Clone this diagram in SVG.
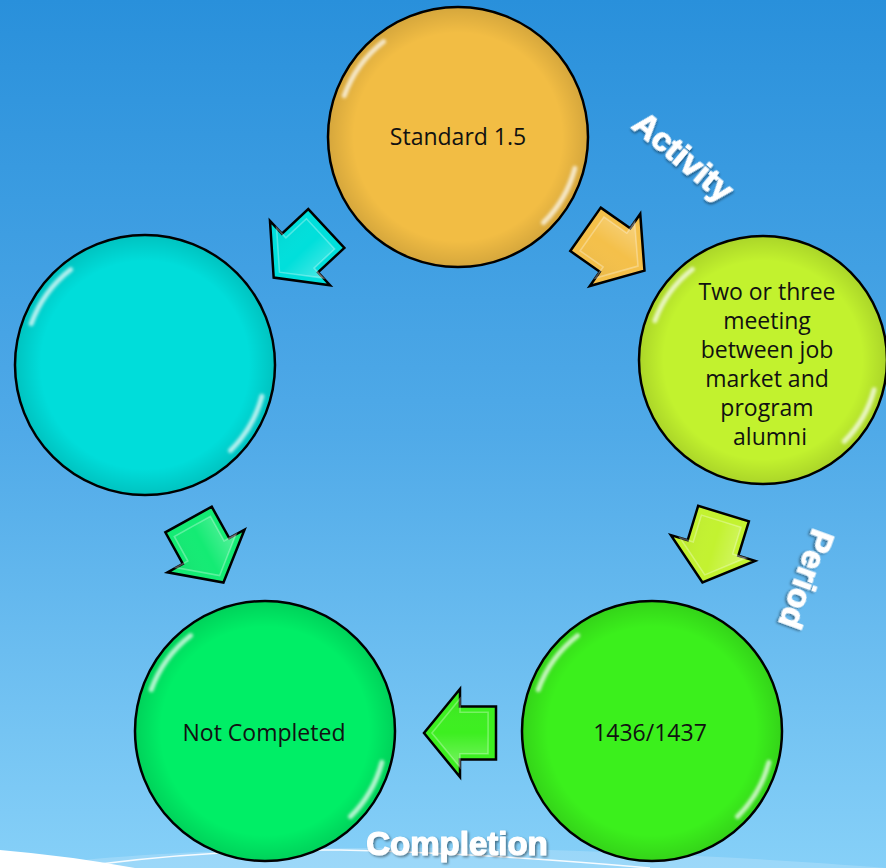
<svg xmlns="http://www.w3.org/2000/svg" width="886" height="868" viewBox="0 0 886 868">
  <defs>
    <linearGradient id="bg" x1="0" y1="0" x2="0" y2="1">
      <stop offset="0" stop-color="#2990DB"/>
      <stop offset="0.5" stop-color="#50AAE8"/>
      <stop offset="1" stop-color="#86D0F8"/>
    </linearGradient>
    <radialGradient id="shade" cx="0.5" cy="0.5" r="0.5">
      <stop offset="0.8" stop-color="#000" stop-opacity="0"/>
      <stop offset="1" stop-color="#000" stop-opacity="0.12"/>
    </radialGradient>
    <linearGradient id="abev" x1="0" y1="0" x2="0" y2="1">
      <stop offset="0" stop-color="#fff" stop-opacity="0.3"/>
      <stop offset="0.5" stop-color="#fff" stop-opacity="0"/>
      <stop offset="1" stop-color="#000" stop-opacity="0.05"/>
    </linearGradient>
    <filter id="blur" x="-10%" y="-10%" width="120%" height="120%">
      <feGaussianBlur stdDeviation="1.4"/>
    </filter>
    <filter id="shadow" x="-20%" y="-20%" width="140%" height="140%">
      <feDropShadow dx="1.5" dy="1.5" stdDeviation="1.2" flood-color="#000" flood-opacity="0.45"/>
    </filter>
    <path id="arrow" d="M-36,-26.5 L0,-26.5 L0,-44 L36,0 L0,44 L0,26.5 L-36,26.5 Z"/>
  </defs>
  <style>
    .circ { stroke: #000; stroke-width: 2.5; }
    .gloss { fill: none; stroke: #fff; stroke-width: 5; stroke-opacity: 0.7; stroke-linecap: round; stroke-dasharray: 30 155 32 143; stroke-dashoffset: -15; filter: url(#blur); }
    .lbl { font-family: "Open Sans", "Liberation Sans", sans-serif; font-size: 23px; fill: #111; text-anchor: middle; }
    .big { font-family: "Liberation Sans", "Open Sans", sans-serif; font-weight: bold; font-size: 33px; fill: #fff; stroke: #fff; stroke-width: 1.2; stroke-linejoin: round; text-anchor: middle; filter: url(#shadow); }
    .arr { stroke: #000; stroke-width: 2.5; stroke-linejoin: miter; }
    .arrhl { fill: url(#abev); stroke: #fff; stroke-opacity: 0.3; stroke-width: 2; }
  </style>

  <rect x="0" y="0" width="886" height="868" fill="url(#bg)"/>
  <g id="swoosh">
    <path d="M20,868 C120,852 300,846 450,848 C600,850 760,858 886,868 Z" fill="#fff" fill-opacity="0.18"/>
    <path d="M100,864 Q220,849 340,850 Q480,853 650,868" fill="none" stroke="#fff" stroke-width="1.5" stroke-opacity="0.9"/>
    <path d="M0,850 Q70,856 135,868 L0,868 Z" fill="#fff"/>
  </g>

  <g id="connectors">
    <g transform="translate(615,250) rotate(35)">
      <use href="#arrow" class="arr" fill="#F4C04A"/>
      <use href="#arrow" class="arrhl" transform="scale(0.78)"/>
    </g>
    <g transform="translate(713,548) rotate(107)">
      <use href="#arrow" class="arr" fill="#C3F230"/>
      <use href="#arrow" class="arrhl" transform="scale(0.78)"/>
    </g>
    <g transform="translate(460,733) rotate(180)">
      <use href="#arrow" class="arr" fill="#3DEF20"/>
      <use href="#arrow" class="arrhl" transform="scale(0.78)"/>
    </g>
    <g transform="translate(206,551) rotate(61)">
      <use href="#arrow" class="arr" fill="#14EB74"/>
      <use href="#arrow" class="arrhl" transform="scale(0.78)"/>
    </g>
    <g transform="translate(300,253) rotate(137)">
      <use href="#arrow" class="arr" fill="#00DFDB"/>
      <use href="#arrow" class="arrhl" transform="scale(0.78)"/>
    </g>
  </g>

  <g id="node-standard">
    <circle class="circ" cx="458" cy="137" r="130" fill="#F2BD44"/>
    <circle cx="458" cy="137" r="130" fill="url(#shade)"/>
    <circle class="gloss" cx="458" cy="137" r="121" pathLength="360"/>
    <text class="lbl" x="458" y="145">Standard 1.5</text>
  </g>

  <g id="node-meeting">
    <circle class="circ" cx="763" cy="360" r="124" fill="#C2F22E"/>
    <circle cx="763" cy="360" r="124" fill="url(#shade)"/>
    <circle class="gloss" cx="763" cy="360" r="115" pathLength="360"/>
    <text class="lbl">
      <tspan x="770" y="300">Two or three</tspan>
      <tspan x="770" y="329">meeting</tspan>
      <tspan x="770" y="358">between job</tspan>
      <tspan x="770" y="387">market and</tspan>
      <tspan x="770" y="416">program</tspan>
      <tspan x="770" y="445">alumni</tspan>
    </text>
  </g>

  <g id="node-period">
    <circle class="circ" cx="652" cy="731" r="130" fill="#3BF01C"/>
    <circle cx="652" cy="731" r="130" fill="url(#shade)"/>
    <circle class="gloss" cx="652" cy="731" r="121" pathLength="360"/>
    <text class="lbl" x="650" y="741">1436/1437</text>
  </g>

  <g id="node-completion">
    <circle class="circ" cx="265" cy="731" r="130" fill="#00EE66"/>
    <circle cx="265" cy="731" r="130" fill="url(#shade)"/>
    <circle class="gloss" cx="265" cy="731" r="121" pathLength="360"/>
    <text class="lbl" x="264" y="741">Not Completed</text>
  </g>

  <g id="node-empty">
    <circle class="circ" cx="145" cy="365" r="130" fill="#00DDDA"/>
    <circle cx="145" cy="365" r="130" fill="url(#shade)"/>
    <circle class="gloss" cx="145" cy="365" r="121" pathLength="360"/>
  </g>

  <g id="labels">
    <text class="big" transform="translate(683,157) rotate(40)" x="0" y="11">Activity</text>
    <text class="big" transform="translate(806,579) rotate(110)" x="0" y="11">Period</text>
    <text class="big" x="457" y="855">Completion</text>
  </g>
</svg>
